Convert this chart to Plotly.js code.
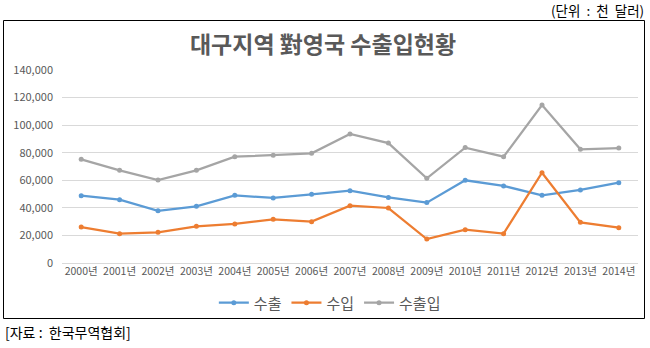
<!DOCTYPE html>
<html><head><meta charset="utf-8">
<script src="https://cdn.plot.ly/plotly-3.0.1.min.js"></script>
<style>html,body{margin:0;padding:0;background:#fff;}#chart{width:650px;height:348px;}</style>
</head><body><div id="chart"></div>
<script>
const years = ["2000년","2001년","2002년","2003년","2004년","2005년","2006년","2007년","2008년","2009년","2010년","2011년","2012년","2013년","2014년"];
const exportVals = [48800,45900,37900,41100,49100,47200,49800,52500,47600,43800,60000,55900,49100,53000,58300];
const importVals = [26100,21300,22300,26600,28300,31700,30000,41600,39900,17400,24200,21300,65500,29500,25600];
const totalVals  = [75200,67200,60200,67200,77100,78100,79600,93600,87000,61400,83700,77100,114600,82500,83400];
const seriesNames = ["수출","수입","수출입"];
const colors = ["#5B9BD5","#ED7D31","#A5A5A5"];
const font = '"Noto Sans CJK KR", "Noto Sans", sans-serif';

const traces = [exportVals, importVals, totalVals].map((v,i)=>({
  x: years, y: v, name: seriesNames[i], type:'scatter', mode:'lines+markers',
  line:{color:colors[i], width:2.25}, marker:{color:colors[i], size:5}
}));

const layout = {
  width:650, height:348,
  margin:{l:62, r:12, t:70, b:85},
  paper_bgcolor:'#fff', plot_bgcolor:'#fff',
  font:{family:font, color:'#595959'},
  showlegend:true,
  title:{text:'<b>대구지역 對영국 수출입현황</b>', x:0.497, xref:'container', xanchor:'center',
         y:1-45/348, yref:'container', yanchor:'middle',
         font:{family:font, size:23, color:'#595959'}},
  xaxis:{type:'category', range:[-0.5,14.5], showgrid:false, showline:false, ticks:'',
         tickfont:{size:10.5, color:'#595959'}, fixedrange:true},
  yaxis:{range:[0,140000], dtick:20000, tickformat:',', showgrid:true, gridcolor:'#D9D9D9',
         zeroline:true, zerolinecolor:'#D9D9D9', zerolinewidth:1, showline:false, ticks:'',
         tickfont:{size:11, color:'#595959'}, ticklabelstandoff:8, fixedrange:true},
  legend:{orientation:'h', x:0.465, xanchor:'center', y:-0.207, yanchor:'middle',
          bgcolor:'rgba(0,0,0,0)',
          font:{size:15, color:'#595959'}, itemwidth:30, tracegroupgap:0},
  shapes:[{type:'rect', xref:'paper', yref:'paper', layer:'above',
           x0:(3.5-62)/576, x1:(644.5-62)/576, y0:(263-318.5)/193, y1:(263-20.5)/193,
           line:{color:'#000', width:1}, fillcolor:'rgba(0,0,0,0)'}],
  annotations:[
    {text:'(단위\u00a0\u00a0:\u00a0\u00a0천\u00a0\u00a0달러)', xref:'paper', yref:'paper', x:(646-62)/576, y:(263-10)/193,
     xanchor:'right', yanchor:'middle', showarrow:false, font:{family:font, size:13.5, color:'#000'}},
    {text:'[자료\u00a0:\u00a0\u00a0한국무역협회]', xref:'paper', yref:'paper', x:(3-62)/576, y:(263-332)/193,
     xanchor:'left', yanchor:'middle', showarrow:false, font:{family:font, size:14, color:'#000'}}
  ]
};
Plotly.newPlot('chart', traces, layout, {displayModeBar:false, staticPlot:true});
</script></body></html>
